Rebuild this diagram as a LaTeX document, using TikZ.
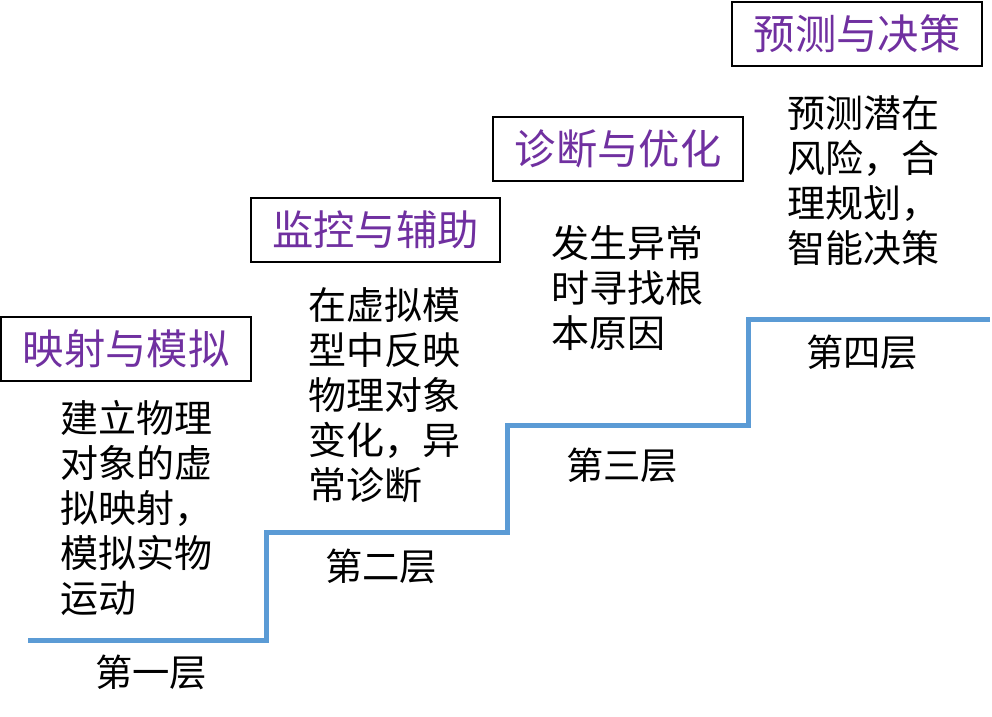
\documentclass[tikz,border=0pt]{standalone}
\usepackage{fontspec}
\setmainfont{Noto Sans CJK SC}
\definecolor{titlepurple}{HTML}{7030A0}
\definecolor{stairblue}{HTML}{5B9BD5}
\begin{document}
\begin{tikzpicture}[x=0.75pt,y=-0.75pt,
  titlebox/.style={draw=black,line width=1.5pt,minimum width=187pt,minimum height=48pt,
    text=titlepurple,font=\fontsize{31}{36}\selectfont},
  bodytext/.style={anchor=west,align=left,inner sep=0pt,font=\fontsize{28.5}{33.75}\selectfont},
  layer/.style={inner sep=0pt,font=\fontsize{28}{33}\selectfont},
  stair/.style={draw=stairblue,line width=3.75pt}]
\useasboundingbox (0,0) rectangle (992,717);

% staircase
\draw[stair] (28,640) -- (266,640) -- (266,532) -- (507,532) -- (507,425)
  -- (748,425) -- (748,319) -- (990,319);

% titles
\node[titlebox] (t1) at (126,348.5) {映射与模拟};
\node[titlebox] (t2) at (375.5,230) {监控与辅助};
\node[titlebox] (t3) at (618,148.5) {诊断与优化};
\node[titlebox] (t4) at (857,34) {预测与决策};

% descriptions
\node[bodytext] (d1) at (60,508) {建立物理\\对象的虚\\拟映射，\\模拟实物\\运动};
\node[bodytext] (d2) at (308,395.5) {在虚拟模\\型中反映\\物理对象\\变化，异\\常诊断};
\node[bodytext] (d3) at (551,288) {发生异常\\时寻找根\\本原因};
\node[bodytext] (d4) at (787,180.5) {预测潜在\\风险，合\\理规划，\\智能决策};

% layers
\node[layer] (l1) at (151,672) {第一层};
\node[layer] (l2) at (381,566) {第二层};
\node[layer] (l3) at (622,465) {第三层};
\node[layer] (l4) at (862,352) {第四层};
\end{tikzpicture}
\end{document}
